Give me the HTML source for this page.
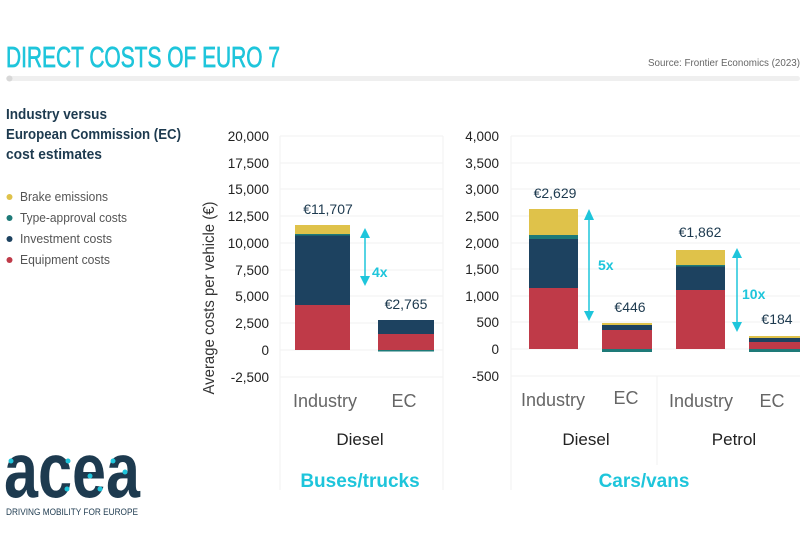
<!DOCTYPE html>
<html><head><meta charset="utf-8"><style>
body{margin:0;background:#fff}
svg{display:block}
text{font-family:"Liberation Sans",sans-serif}
</style></head><body>
<svg width="800" height="535" viewBox="0 0 800 535" xmlns="http://www.w3.org/2000/svg">
<text x="6" y="67" font-size="29" fill="#1ec5db" stroke="#1ec5db" stroke-width="0.7" textLength="274" lengthAdjust="spacingAndGlyphs">DIRECT COSTS OF EURO 7</text>
<text x="648" y="66" font-size="10.5" fill="#666" textLength="152" lengthAdjust="spacingAndGlyphs">Source: Frontier Economics (2023)</text>
<rect x="6" y="76" width="794" height="5" rx="2.5" fill="#efefef"/>
<circle cx="9.5" cy="78.5" r="3" fill="#d8d8d8"/>
<g font-weight="bold" font-size="14.5" fill="#1d3a4f">
<text x="6" y="119" textLength="101" lengthAdjust="spacingAndGlyphs">Industry versus</text>
<text x="6" y="139" textLength="175" lengthAdjust="spacingAndGlyphs">European Commission (EC)</text>
<text x="6" y="159" textLength="96" lengthAdjust="spacingAndGlyphs">cost estimates</text></g>
<g font-size="12.5" fill="#555">
<circle cx="9.5" cy="197" r="3" fill="#dfc24a"/><text x="20" y="201" textLength="88" lengthAdjust="spacingAndGlyphs">Brake emissions</text>
<circle cx="9.5" cy="218" r="3" fill="#1e7a78"/><text x="20" y="222" textLength="107" lengthAdjust="spacingAndGlyphs">Type-approval costs</text>
<circle cx="9.5" cy="239" r="3" fill="#1d4260"/><text x="20" y="243" textLength="92" lengthAdjust="spacingAndGlyphs">Investment costs</text>
<circle cx="9.5" cy="260" r="3" fill="#bf3a48"/><text x="20" y="264" textLength="90" lengthAdjust="spacingAndGlyphs">Equipment costs</text></g>
<text transform="translate(214,298) rotate(-90)" text-anchor="middle" font-size="16" fill="#333" textLength="193" lengthAdjust="spacingAndGlyphs">Average costs per vehicle (€)</text>
<g stroke="#f2f2f2" stroke-width="1">
<line x1="280" y1="136" x2="443" y2="136"/><line x1="280" y1="163" x2="443" y2="163"/><line x1="280" y1="189" x2="443" y2="189"/><line x1="280" y1="216" x2="443" y2="216"/><line x1="280" y1="243" x2="443" y2="243"/><line x1="280" y1="270" x2="443" y2="270"/><line x1="280" y1="296" x2="443" y2="296"/><line x1="280" y1="323" x2="443" y2="323"/><line x1="280" y1="350" x2="443" y2="350"/><line x1="280" y1="377" x2="443" y2="377"/>
<line x1="280" y1="136" x2="280" y2="490"/><line x1="443" y1="136" x2="443" y2="490"/>
<line x1="511" y1="136" x2="800" y2="136"/><line x1="511" y1="163" x2="800" y2="163"/><line x1="511" y1="189" x2="800" y2="189"/><line x1="511" y1="216" x2="800" y2="216"/><line x1="511" y1="243" x2="800" y2="243"/><line x1="511" y1="269" x2="800" y2="269"/><line x1="511" y1="296" x2="800" y2="296"/><line x1="511" y1="322" x2="800" y2="322"/><line x1="511" y1="349" x2="800" y2="349"/><line x1="511" y1="376" x2="800" y2="376"/>
<line x1="511" y1="136" x2="511" y2="490"/><line x1="657" y1="376" x2="657" y2="465"/>
</g>
<g font-size="13.5" fill="#222" text-anchor="end">
<text x="269" y="141">20,000</text><text x="269" y="168">17,500</text><text x="269" y="194">15,000</text><text x="269" y="221">12,500</text><text x="269" y="248">10,000</text><text x="269" y="275">7,500</text><text x="269" y="301">5,000</text><text x="269" y="328">2,500</text><text x="269" y="355">0</text><text x="269" y="382">-2,500</text>
<text x="499" y="141">4,000</text><text x="499" y="168">3,500</text><text x="499" y="194">3,000</text><text x="499" y="221">2,500</text><text x="499" y="248">2,000</text><text x="499" y="274">1,500</text><text x="499" y="301">1,000</text><text x="499" y="327">500</text><text x="499" y="354">0</text><text x="499" y="381">-500</text>
</g>
<rect x="295" y="305" width="55" height="45" fill="#bf3a48"/>
<rect x="295" y="235" width="55" height="70" fill="#1d4260"/>
<rect x="295" y="234" width="55" height="1.5" fill="#1e7a78"/>
<rect x="295" y="225" width="55" height="9" fill="#dfc24a"/>
<rect x="378" y="350" width="56" height="1.5" fill="#1e7a78"/>
<rect x="378" y="334" width="56" height="16" fill="#bf3a48"/>
<rect x="378" y="320" width="56" height="14" fill="#1d4260"/>
<rect x="529" y="288" width="49" height="61" fill="#bf3a48"/>
<rect x="529" y="239" width="49" height="49" fill="#1d4260"/>
<rect x="529" y="235" width="49" height="4" fill="#1e7a78"/>
<rect x="529" y="209" width="49" height="26" fill="#dfc24a"/>
<rect x="602" y="349" width="50" height="3" fill="#1e7a78"/>
<rect x="602" y="330" width="50" height="19" fill="#bf3a48"/>
<rect x="602" y="325" width="50" height="5" fill="#1d4260"/>
<rect x="602" y="323" width="50" height="2" fill="#dfc24a"/>
<rect x="676" y="290" width="49" height="59" fill="#bf3a48"/>
<rect x="676" y="266" width="49" height="24" fill="#1d4260"/>
<rect x="676" y="265" width="49" height="1.5" fill="#1e7a78"/>
<rect x="676" y="250" width="49" height="15" fill="#dfc24a"/>
<rect x="749" y="349" width="51" height="3" fill="#1e7a78"/>
<rect x="749" y="342" width="51" height="7" fill="#bf3a48"/>
<rect x="749" y="338" width="51" height="4" fill="#1d4260"/>
<rect x="749" y="336" width="51" height="2" fill="#dfc24a"/>
<g stroke="#1ec5db" stroke-width="1.5" fill="#1ec5db">
<line x1="365" y1="234" x2="365" y2="280"/><polygon points="360,238 370,238 365,228" stroke="none"/><polygon points="360,276 370,276 365,286" stroke="none"/>
<line x1="589" y1="214" x2="589" y2="316"/><polygon points="584,220 594,220 589,209" stroke="none"/><polygon points="584,311 594,311 589,321" stroke="none"/>
<line x1="737" y1="253" x2="737" y2="327"/><polygon points="732,258 742,258 737,248" stroke="none"/><polygon points="732,322 742,322 737,332" stroke="none"/>
</g>
<g font-weight="bold" font-size="14" fill="#1ec5db">
<text x="372" y="277">4x</text><text x="598" y="270">5x</text><text x="742" y="299">10x</text></g>
<g font-size="14" fill="#1d3a4f" text-anchor="middle">
<text x="328" y="214">€11,707</text><text x="406" y="309">€2,765</text>
<text x="555" y="198">€2,629</text><text x="630" y="312">€446</text>
<text x="700" y="237">€1,862</text><text x="777" y="324">€184</text></g>
<g font-size="18" fill="#666" text-anchor="middle">
<text x="325" y="407">Industry</text><text x="404" y="407">EC</text>
<text x="553" y="406">Industry</text><text x="626" y="404">EC</text>
<text x="701" y="407">Industry</text><text x="772" y="407">EC</text></g>
<g font-size="17" fill="#222" text-anchor="middle">
<text x="360" y="445">Diesel</text><text x="586" y="445">Diesel</text><text x="734" y="445">Petrol</text></g>
<g font-size="19" font-weight="bold" fill="#1ec5db" text-anchor="middle">
<text x="360" y="487">Buses/trucks</text><text x="644" y="487">Cars/vans</text></g>
<text x="4" y="497" font-size="78" font-weight="bold" fill="#1d3a4f" textLength="136" lengthAdjust="spacingAndGlyphs">acea</text>
<g fill="#1ec5db"><circle cx="11" cy="461" r="2.5"/><circle cx="68" cy="461" r="2.5"/><circle cx="90" cy="476" r="2.5"/><circle cx="113" cy="461" r="2.5"/><circle cx="125" cy="472" r="2.5"/><circle cx="67" cy="489" r="2.5"/><circle cx="100" cy="489" r="2.5"/></g>
<text x="6" y="515" font-size="9" fill="#1d3a4f" textLength="132" lengthAdjust="spacingAndGlyphs">DRIVING MOBILITY FOR EUROPE</text>
</svg>
</body></html>
